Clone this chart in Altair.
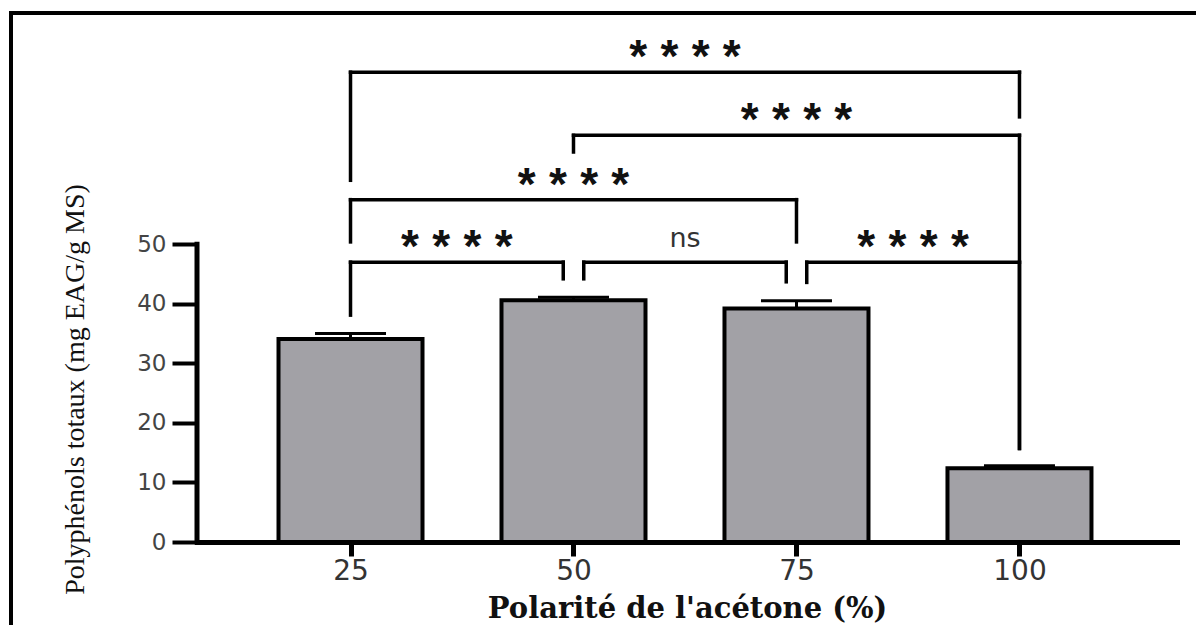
import altair as alt
import pandas as pd

# ---- data ----
categories = [25, 50, 75, 100]
means = [34.1, 40.6, 39.2, 12.4]
errors = [0.9, 0.5, 1.3, 0.4]

cmp_from = [25, 50, 75, 25, 50, 25]
cmp_to = [50, 75, 100, 75, 100, 100]
cmp_level = [47.0, 47.0, 47.0, 57.5, 68.3, 78.9]
cmp_left_end = [38.1, 44.2, 43.6, 50.4, 65.5, 60.75]
cmp_right_end = [44.2, 43.7, 15.7, 50.4, 15.7, 71.4]
cmp_label = ["****", "ns", "****", "****", "****", "****"]

y_ticks = [0, 10, 20, 30, 40, 50]
x_ticks = [25, 50, 75, 100]

# ---- layout constants ----
X_DOMAIN = [8.35, 117.1]
Y_DOMAIN = [0, 87]
LEG_GAP = 1.15
STAR_PITCH = 3.5

bars = pd.DataFrame({"pol": categories, "mean": means, "err": errors})

seg_rows, star_rows, ns_rows = [], [], []
n = len(cmp_from)
for i in range(n):
    a, b, lv = cmp_from[i], cmp_to[i], cmp_level[i]
    left = a + (LEG_GAP if any(cmp_to[j] == a and cmp_level[j] == lv for j in range(n) if j != i) else 0)
    right = b - (LEG_GAP if any(cmp_from[j] == b and cmp_level[j] == lv for j in range(n) if j != i) else 0)
    seg_rows.append({"x": left, "x2": right, "y": lv, "y2": lv})
    seg_rows.append({"x": left, "x2": left, "y": cmp_left_end[i], "y2": lv})
    seg_rows.append({"x": right, "x2": right, "y": cmp_right_end[i], "y2": lv})
    mid = (left + right) / 2
    lab = cmp_label[i]
    if set(lab) == {"*"}:
        k = len(lab)
        for c in range(k):
            star_rows.append({"x": mid + (c - (k - 1) / 2) * STAR_PITCH, "y": lv, "t": "*"})
    else:
        ns_rows.append({"x": mid, "y": lv, "t": lab})

segs = pd.DataFrame(seg_rows)
stars = pd.DataFrame(star_rows)
nss = pd.DataFrame(ns_rows)

xs = alt.Scale(domain=X_DOMAIN, nice=False, zero=False)
ys = alt.Scale(domain=Y_DOMAIN, nice=False, zero=False)

x_axis = alt.Axis(
    values=x_ticks, title="Polarité de l'acétone (%)", grid=False,
    domainColor="black", domainWidth=5, domainCap="square",
    tickColor="black", tickWidth=5, tickSize=14,
    labelFont="DejaVu Sans", labelFontSize=28, labelColor="#333", labelPadding=1,
    titleFont="DejaVu Serif", titleFontWeight="bold", titleFontSize=29,
    titleColor="#111", titleBaseline="alphabetic", titleY=75)
y_axis = alt.Axis(
    values=y_ticks, title="Polyphénols totaux (mg EAG/g MS)", grid=False,
    domain=False, tickColor="black", tickWidth=4, tickSize=25,
    labelFont="DejaVu Sans", labelFontSize=23, labelColor="#444", labelPadding=6,
    titleFont="Liberation Serif", titleFontWeight="normal", titleFontSize=28,
    titleColor="#111", titleBaseline="alphabetic", titleX=-114, titleY=365)


def X(field):
    return alt.X(field, scale=xs, axis=x_axis)


def Y(field):
    return alt.Y(field, scale=ys, axis=y_axis)


bar_layer = alt.Chart(bars).mark_bar(
    orient="vertical", size=144, fill="#a2a1a6", stroke="black", strokeWidth=4
).encode(x=X("pol:Q"), y=Y("mean:Q"), y2=alt.Y2(datum=0))

err_rule = alt.Chart(bars).transform_calculate(upper="datum.mean + datum.err").mark_rule(
    color="black", strokeWidth=3
).encode(x=X("pol:Q"), y=Y("mean:Q"), y2="upper:Q")

err_cap = alt.Chart(bars).transform_calculate(upper="datum.mean + datum.err").mark_tick(
    orient="horizontal", size=71, thickness=3, color="black", opacity=1
).encode(x=X("pol:Q"), y=Y("upper:Q"))

y_line = alt.Chart(pd.DataFrame({"a": [0], "b": [50]})).mark_rule(
    color="black", strokeWidth=5, strokeCap="square"
).encode(x=alt.value(0), y=Y("a:Q"), y2="b:Q")

bracket = alt.Chart(segs).mark_rule(color="black", strokeWidth=3.5, strokeCap="square").encode(
    x=X("x:Q"), x2="x2:Q", y=Y("y:Q"), y2="y2:Q"
)

star_text = alt.Chart(stars).mark_text(
    font="Liberation Sans", fontWeight="bold", fontSize=46, color="#111",
    baseline="alphabetic", align="center", dy=0
).encode(x=X("x:Q"), y=Y("y:Q"), text="t:N")

ns_text = alt.Chart(nss).mark_text(
    font="DejaVu Sans", fontSize=27, color="#333",
    baseline="alphabetic", align="center", dy=-15
).encode(x=X("x:Q"), y=Y("y:Q"), text="t:N")

frame_top = alt.Chart(pd.DataFrame({"k": [0]})).mark_rule(color="black", strokeWidth=4).encode(
    x=alt.value(-188), x2=alt.value(1010), y=alt.value(-11)
)
frame_left = alt.Chart(pd.DataFrame({"k": [0]})).mark_rule(color="black", strokeWidth=4).encode(
    x=alt.value(-186), y=alt.value(-13), y2=alt.value(620)
)

chart = alt.layer(
    bar_layer, err_rule, err_cap, y_line, bracket, star_text, ns_text, frame_top, frame_left
).properties(
    width=980, height=518,
    padding={"left": 189, "top": 16, "right": 19, "bottom": 83},
    autosize=alt.AutoSizeParams(type="none"),
    background="white",
).configure_view(stroke=None)

chart.save("out.html", embed_options={"renderer": "svg", "actions": False})
